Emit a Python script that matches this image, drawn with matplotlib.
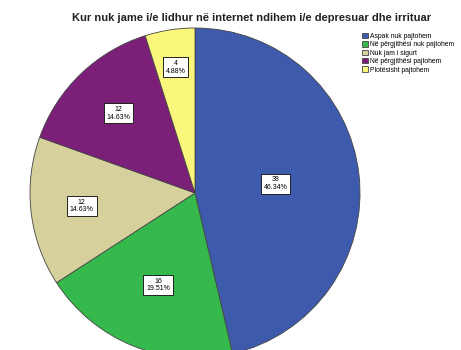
import matplotlib

matplotlib.use("Agg")
import matplotlib.pyplot as plt
import numpy as np

TITLE = "Kur nuk jame i/e lidhur në internet ndihem i/e depresuar dhe irrituar"
CATEGORIES = [
    "Aspak nuk pajtohem",
    "Në përgjithësi nuk pajtohem",
    "Nuk jam i sigurt",
    "Në përgjithësi pajtohem",
    "Plotësisht pajtohem",
]
COUNTS = [38, 16, 12, 12, 4]
COLORS = ["#3d5aad", "#35b94c", "#d5d09c", "#7b1f78", "#fbf77c"]
# how far out (fraction of radius) each label sits along its slice
LABEL_RADII = [0.49, 0.60, 0.69, 0.67, 0.77]

W, H = 461, 350
CENTER = (195, H - 193)
RADIUS = 165


def main() -> None:
    plt.rcParams["font.family"] = ["Liberation Sans", "DejaVu Sans"]
    fig = plt.figure(figsize=(W / 100, H / 100), dpi=100)
    ax = fig.add_axes([0, 0, 1, 1])

    counts = np.asarray(COUNTS, dtype=float)
    total = counts.sum()
    wedges, _ = ax.pie(
        counts,
        colors=COLORS,
        startangle=90,
        counterclock=False,
        center=CENTER,
        radius=RADIUS,
        frame=True,
        wedgeprops={"edgecolor": "#444444", "linewidth": 0.6},
    )
    ax.set_xlim(0, W)
    ax.set_ylim(0, H)
    ax.set_aspect("equal")
    ax.axis("off")

    for wedge, count, frac in zip(wedges, COUNTS, LABEL_RADII):
        mid = np.deg2rad((wedge.theta1 + wedge.theta2) / 2)
        x = CENTER[0] + frac * RADIUS * np.cos(mid)
        y = CENTER[1] + frac * RADIUS * np.sin(mid)
        ax.text(
            x,
            y,
            f"{count}\n{count / total * 100:.2f}%",
            ha="center",
            va="center",
            fontsize=5.0,
            linespacing=1.1,
            bbox={"boxstyle": "square,pad=0.4", "facecolor": "white",
                  "edgecolor": "#222222", "linewidth": 0.7},
        )

    fig.text(252 / W, 1 - 18 / H, TITLE, ha="center", va="center",
             fontsize=8.0, fontweight="bold", color="#222222")

    fig.legend(
        wedges,
        CATEGORIES,
        loc="upper left",
        bbox_to_anchor=(357 / W, 1 - 28 / H),
        frameon=False,
        fontsize=4.9,
        handlelength=0.85,
        handleheight=0.85,
        handletextpad=0.4,
        labelspacing=0.2,
        borderpad=0.2,
    )

    fig.savefig("out.png", dpi=100)
    plt.close(fig)


if __name__ == "__main__":
    main()
